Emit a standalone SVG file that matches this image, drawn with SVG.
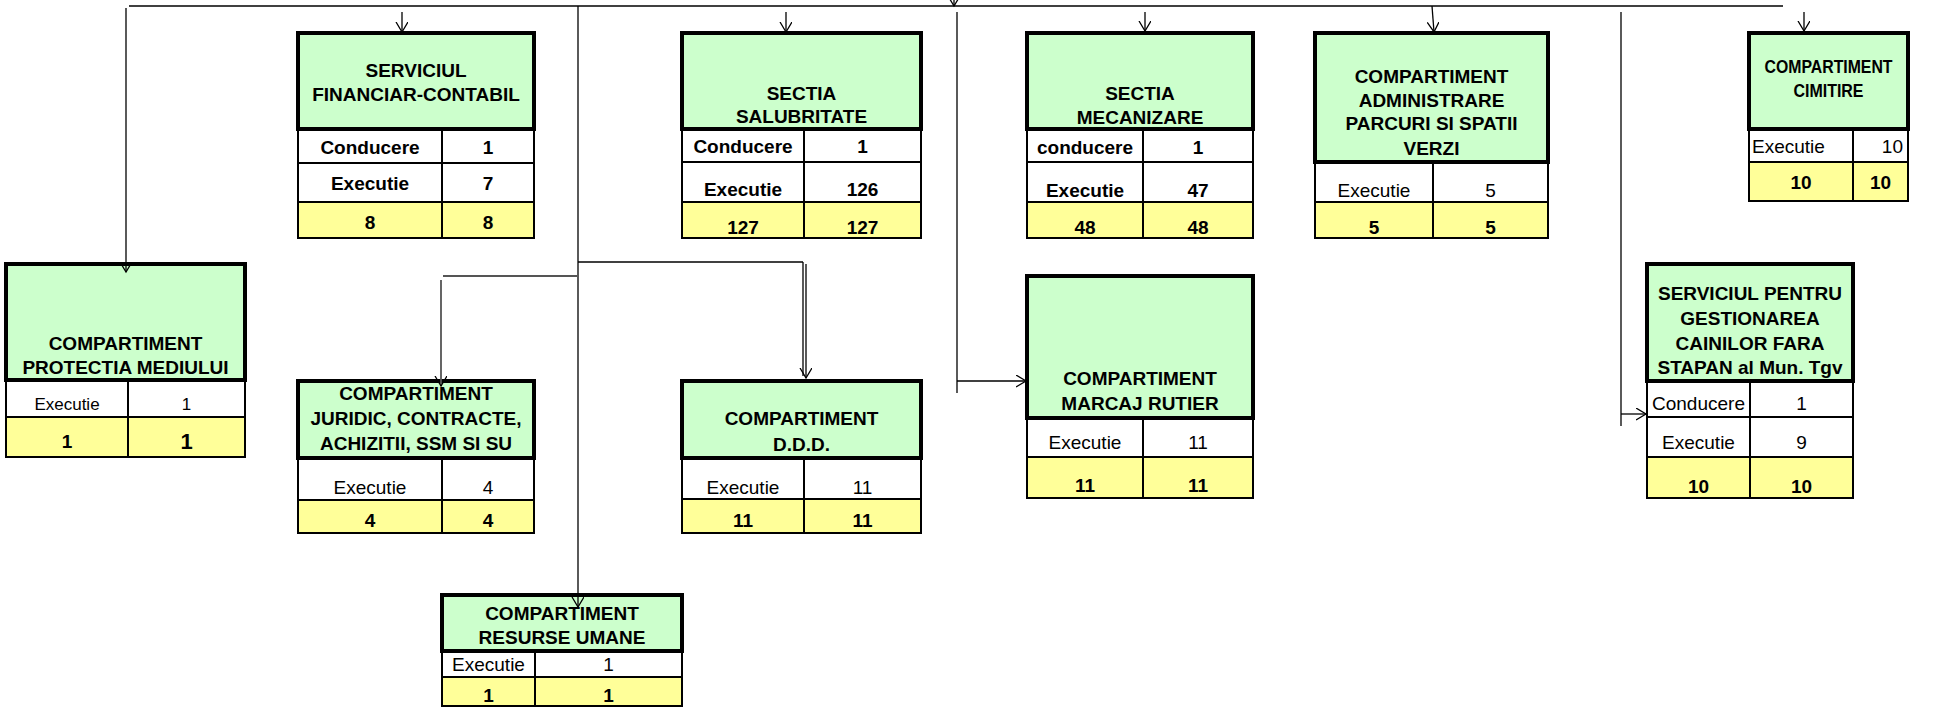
<svg xmlns="http://www.w3.org/2000/svg" width="1942" height="708" viewBox="0 0 1942 708">
<defs>
<marker id="arr" markerWidth="12" markerHeight="14" refX="10" refY="6" orient="auto" markerUnits="userSpaceOnUse"><path d="M0,0 L10,6 L0,12" fill="none" stroke="#000" stroke-width="1.3"/></marker>
<style>
.hdr{fill:#CCFFCC;stroke:#000;stroke-width:4}
.cell{fill:#FFFFFF;stroke:#000;stroke-width:2}
.tot{fill:#FFFF99;stroke:#000;stroke-width:2}
text{font-family:"Liberation Sans",Arial,sans-serif;font-size:19px;fill:#000;text-anchor:middle}
.b{font-weight:bold}
.ln{stroke:#000;stroke-width:1.3;fill:none}
.lg{stroke:#555;stroke-width:1.8;fill:none}
</style>
</defs>
<rect width="1942" height="708" fill="#fff"/>
<g id="n-protectia">
<rect class="cell" x="6" y="380" width="122" height="37"/><rect class="cell" x="128" y="380" width="117" height="37"/>
<rect class="tot" x="6" y="417" width="122" height="40"/><rect class="tot" x="128" y="417" width="117" height="40"/>
<rect class="hdr" x="6" y="264" width="239" height="116"/>
<text class="b" x="125.5" y="350">COMPARTIMENT</text>
<text class="b" x="125.5" y="374">PROTECTIA MEDIULUI</text>
<text x="67" y="410" style="font-size:17px">Executie</text><text x="186.5" y="410" style="font-size:17px">1</text>
<text class="b" x="67" y="448">1</text><text class="b" x="186.5" y="449" style="font-size:22px">1</text>
</g>
<g id="n-financiar">
<rect class="cell" x="298" y="129" width="144" height="34"/><rect class="cell" x="442" y="129" width="92" height="34"/>
<rect class="cell" x="298" y="163" width="144" height="39"/><rect class="cell" x="442" y="163" width="92" height="39"/>
<rect class="tot" x="298" y="202" width="144" height="36"/><rect class="tot" x="442" y="202" width="92" height="36"/>
<rect class="hdr" x="298" y="33" width="236" height="96"/>
<text class="b" x="416" y="77">SERVICIUL</text>
<text class="b" x="416" y="101">FINANCIAR-CONTABIL</text>
<text class="b" x="370" y="154">Conducere</text><text class="b" x="488" y="154">1</text>
<text class="b" x="370" y="190">Executie</text><text class="b" x="488" y="190">7</text>
<text class="b" x="370" y="229">8</text><text class="b" x="488" y="229">8</text>
</g>
<g id="n-salubritate">
<rect class="cell" x="682" y="129" width="122" height="33"/><rect class="cell" x="804" y="129" width="117" height="33"/>
<rect class="cell" x="682" y="162" width="122" height="40"/><rect class="cell" x="804" y="162" width="117" height="40"/>
<rect class="tot" x="682" y="202" width="122" height="36"/><rect class="tot" x="804" y="202" width="117" height="36"/>
<rect class="hdr" x="682" y="33" width="239" height="96"/>
<text class="b" x="801.5" y="100">SECTIA</text>
<text class="b" x="801.5" y="123">SALUBRITATE</text>
<text class="b" x="743" y="153">Conducere</text><text class="b" x="862.5" y="153">1</text>
<text class="b" x="743" y="196">Executie</text><text class="b" x="862.5" y="196">126</text>
<text class="b" x="743" y="234">127</text><text class="b" x="862.5" y="234">127</text>
</g>
<g id="n-mecanizare">
<rect class="cell" x="1027" y="129" width="116" height="33"/><rect class="cell" x="1143" y="129" width="110" height="33"/>
<rect class="cell" x="1027" y="162" width="116" height="40"/><rect class="cell" x="1143" y="162" width="110" height="40"/>
<rect class="tot" x="1027" y="202" width="116" height="36"/><rect class="tot" x="1143" y="202" width="110" height="36"/>
<rect class="hdr" x="1027" y="33" width="226" height="96"/>
<text class="b" x="1140" y="100">SECTIA</text>
<text class="b" x="1140" y="124">MECANIZARE</text>
<text class="b" x="1085" y="154">conducere</text><text class="b" x="1198" y="154">1</text>
<text class="b" x="1085" y="197">Executie</text><text class="b" x="1198" y="197">47</text>
<text class="b" x="1085" y="234">48</text><text class="b" x="1198" y="234">48</text>
</g>
<g id="n-parcuri">
<rect class="cell" x="1315" y="162" width="118" height="40"/><rect class="cell" x="1433" y="162" width="115" height="40"/>
<rect class="tot" x="1315" y="202" width="118" height="36"/><rect class="tot" x="1433" y="202" width="115" height="36"/>
<rect class="hdr" x="1315" y="33" width="233" height="129"/>
<text class="b" x="1431.5" y="83">COMPARTIMENT</text>
<text class="b" x="1431.5" y="107">ADMINISTRARE</text>
<text class="b" x="1431.5" y="130">PARCURI SI SPATII</text>
<text class="b" x="1431.5" y="155">VERZI</text>
<text x="1374" y="197">Executie</text><text x="1490.5" y="197">5</text>
<text class="b" x="1374" y="234">5</text><text class="b" x="1490.5" y="234">5</text>
</g>
<g id="n-cimitire">
<rect class="cell" x="1749" y="129" width="104" height="33"/><rect class="cell" x="1853" y="129" width="55" height="33"/>
<rect class="tot" x="1749" y="162" width="104" height="39"/><rect class="tot" x="1853" y="162" width="55" height="39"/>
<rect class="hdr" x="1749" y="33" width="159" height="96"/>
<text class="b" x="1828.5" y="73" textLength="128" lengthAdjust="spacingAndGlyphs">COMPARTIMENT</text>
<text class="b" x="1828.5" y="97" textLength="70" lengthAdjust="spacingAndGlyphs">CIMITIRE</text>
<text x="1752" y="153" style="text-anchor:start">Executie</text><text x="1903" y="153" style="text-anchor:end">10</text>
<text class="b" x="1801" y="189">10</text><text class="b" x="1880.5" y="189">10</text>
</g>
<g id="n-caini">
<rect class="cell" x="1647" y="381" width="103" height="36"/><rect class="cell" x="1750" y="381" width="103" height="36"/>
<rect class="cell" x="1647" y="417" width="103" height="40"/><rect class="cell" x="1750" y="417" width="103" height="40"/>
<rect class="tot" x="1647" y="457" width="103" height="41"/><rect class="tot" x="1750" y="457" width="103" height="41"/>
<rect class="hdr" x="1647" y="264" width="206" height="117"/>
<text class="b" x="1750" y="300">SERVICIUL PENTRU</text>
<text class="b" x="1750" y="325">GESTIONAREA</text>
<text class="b" x="1750" y="350">CAINILOR FARA</text>
<text class="b" x="1750" y="374">STAPAN al Mun. Tgv</text>
<text x="1698.5" y="410">Conducere</text><text x="1801.5" y="410">1</text>
<text x="1698.5" y="449">Executie</text><text x="1801.5" y="449">9</text>
<text class="b" x="1698.5" y="493">10</text><text class="b" x="1801.5" y="493">10</text>
</g>
<g id="n-juridic">
<rect class="cell" x="298" y="458" width="144" height="42"/><rect class="cell" x="442" y="458" width="92" height="42"/>
<rect class="tot" x="298" y="500" width="144" height="33"/><rect class="tot" x="442" y="500" width="92" height="33"/>
<rect class="hdr" x="298" y="381" width="236" height="77"/>
<text class="b" x="416" y="400">COMPARTIMENT</text>
<text class="b" x="416" y="425">JURIDIC, CONTRACTE,</text>
<text class="b" x="416" y="450">ACHIZITII, SSM SI SU</text>
<text x="370" y="494">Executie</text><text x="488" y="494">4</text>
<text class="b" x="370" y="527">4</text><text class="b" x="488" y="527">4</text>
</g>
<g id="n-ddd">
<rect class="cell" x="682" y="458" width="122" height="41"/><rect class="cell" x="804" y="458" width="117" height="41"/>
<rect class="tot" x="682" y="499" width="122" height="34"/><rect class="tot" x="804" y="499" width="117" height="34"/>
<rect class="hdr" x="682" y="381" width="239" height="77"/>
<text class="b" x="801.5" y="425">COMPARTIMENT</text>
<text class="b" x="801.5" y="451">D.D.D.</text>
<text x="743" y="494">Executie</text><text x="862.5" y="494">11</text>
<text class="b" x="743" y="527">11</text><text class="b" x="862.5" y="527">11</text>
</g>
<g id="n-marcaj">
<rect class="cell" x="1027" y="418" width="116" height="39"/><rect class="cell" x="1143" y="418" width="110" height="39"/>
<rect class="tot" x="1027" y="457" width="116" height="41"/><rect class="tot" x="1143" y="457" width="110" height="41"/>
<rect class="hdr" x="1027" y="276" width="226" height="142"/>
<text class="b" x="1140" y="385">COMPARTIMENT</text>
<text class="b" x="1140" y="410">MARCAJ RUTIER</text>
<text x="1085" y="449">Executie</text><text x="1198" y="449">11</text>
<text class="b" x="1085" y="492">11</text><text class="b" x="1198" y="492">11</text>
</g>
<g id="n-resurse">
<rect class="cell" x="442" y="651" width="93" height="26"/><rect class="cell" x="535" y="651" width="147" height="26"/>
<rect class="tot" x="442" y="677" width="93" height="29"/><rect class="tot" x="535" y="677" width="147" height="29"/>
<rect class="hdr" x="442" y="595" width="240" height="56"/>
<text class="b" x="562" y="620">COMPARTIMENT</text>
<text class="b" x="562" y="644">RESURSE UMANE</text>
<text x="488.5" y="671">Executie</text><text x="608.5" y="671">1</text>
<text class="b" x="488.5" y="702">1</text><text class="b" x="608.5" y="702">1</text>
</g>
<g id="connectors">
<line class="ln" x1="954" y1="-12" x2="954" y2="6" marker-end="url(#arr)"/>
<line class="ln" x1="129" y1="6" x2="1783" y2="6"/>
<line class="ln" x1="126" y1="8" x2="126" y2="272" marker-end="url(#arr)"/>
<line class="ln" x1="402" y1="12" x2="402" y2="32" marker-end="url(#arr)"/>
<line class="ln" x1="578" y1="6" x2="578" y2="607" marker-end="url(#arr)"/>
<line class="ln" x1="786" y1="12" x2="786" y2="32" marker-end="url(#arr)"/>
<line class="ln" x1="957" y1="12" x2="957" y2="393"/>
<line class="ln" x1="957" y1="381" x2="1026" y2="381" marker-end="url(#arr)"/>
<line class="ln" x1="1145" y1="12" x2="1145" y2="31" marker-end="url(#arr)"/>
<line class="ln" x1="1432" y1="6" x2="1434" y2="32" marker-end="url(#arr)"/>
<line class="ln" x1="1621" y1="12" x2="1621" y2="426"/>
<line class="ln" x1="1621" y1="414" x2="1646" y2="414" marker-end="url(#arr)"/>
<line class="ln" x1="1804" y1="12" x2="1804" y2="31" marker-end="url(#arr)"/>
<line class="ln" x1="578" y1="262" x2="803" y2="262"/>
<line class="ln" x1="803" y1="262" x2="803" y2="376"/>
<line class="ln" x1="806" y1="264" x2="806" y2="378" marker-end="url(#arr)"/>
<line class="lg" x1="443" y1="276" x2="577" y2="276"/>
<line class="lg" x1="441" y1="280" x2="441" y2="386" marker-end="url(#arr)"/>
</g>
</svg>
